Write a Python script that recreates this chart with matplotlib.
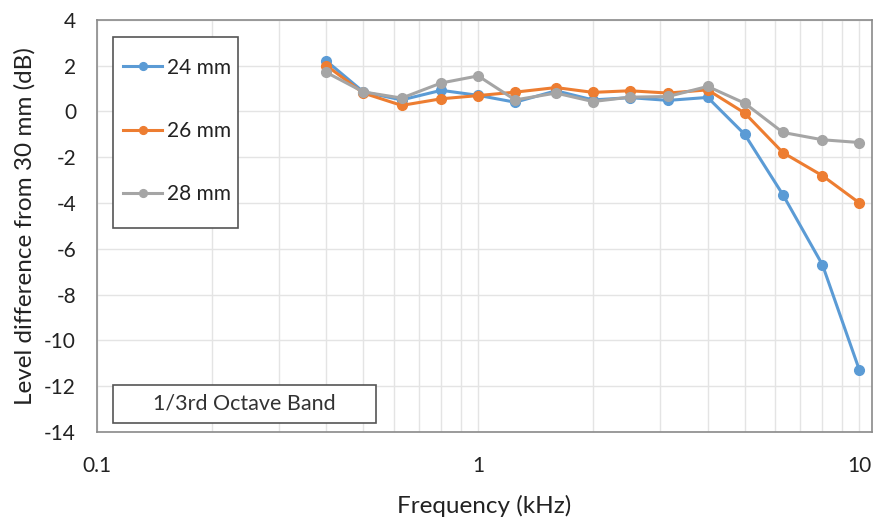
import matplotlib.pyplot as plt
from matplotlib.patches import Rectangle
from matplotlib.ticker import FixedLocator, FixedFormatter, LogLocator, NullFormatter

plt.rcParams['font.family'] = ['Lato', 'DejaVu Sans']
plt.rcParams['axes.unicode_minus'] = False

# frecuencias de las bandas de 1/3 de octava (kHz)
freqs = [0.4, 0.5, 0.63, 0.8, 1, 1.25, 1.6, 2, 2.5, 3.15, 4, 5, 6.3, 8, 10]

# diferencia de nivel respecto a 30 mm (dB)
mm24 = [2.2, 0.85, 0.5, 0.92, 0.7, 0.4, 0.9, 0.5, 0.6, 0.48, 0.61, -1.0, -3.64, -6.7, -11.3]
mm26 = [2.0, 0.8, 0.26, 0.55, 0.69, 0.84, 1.04, 0.83, 0.9, 0.8, 0.94, -0.07, -1.8, -2.81, -4.0]
mm28 = [1.7, 0.85, 0.58, 1.24, 1.55, 0.5, 0.8, 0.43, 0.62, 0.65, 1.09, 0.36, -0.92, -1.24, -1.36]

labels = ['24 mm', '26 mm', '28 mm']
colors = ['#5B9BD5', '#ED7D31', '#A5A5A5']
txt = '#222222'

fig = plt.figure(figsize=(8.73, 5.21), dpi=100)
ax = fig.add_axes([0.111, 0.171, 0.888, 0.791])

for ys, lab, c in zip([mm24, mm26, mm28], labels, colors):
    ax.plot(freqs, ys, color=c, lw=2.2, marker='o', ms=7, label=lab)

ax.set_xscale('log')
ax.set_xlim(0.1, 10.8)
ax.set_ylim(-14, 4)
ax.xaxis.set_major_locator(FixedLocator([0.1, 1, 10]))
ax.xaxis.set_major_formatter(FixedFormatter(['0.1', '1', '10']))
ax.xaxis.set_minor_locator(LogLocator(base=10, subs=range(2, 10)))
ax.xaxis.set_minor_formatter(NullFormatter())
ax.set_yticks(range(-14, 5, 2))

ax.grid(True, which='both', axis='x', color='#e4e4e4', lw=1)
ax.grid(True, which='major', axis='y', color='#e4e4e4', lw=1)
ax.set_axisbelow(True)
ax.tick_params(which='both', length=0, labelsize=15, colors=txt)
ax.tick_params(axis='x', pad=17)
ax.tick_params(axis='y', pad=15)
for s in ax.spines.values():
    s.set_color('#8a8a8a')
    s.set_linewidth(1.2)

ax.set_xlabel('Frequency (kHz)', fontsize=17.5, color=txt, labelpad=14)
ax.set_ylabel('Level difference from 30 mm (dB)', fontsize=17.5, color=txt, labelpad=6)

# leyenda sin marco + marco dibujado aparte
leg = ax.legend(loc='upper left', bbox_to_anchor=(0.0335, 0.908), fontsize=15, labelspacing=2.07,
                handlelength=1.9, handletextpad=0.2, borderpad=0, borderaxespad=0,
                frameon=False, markerscale=0.8)
for t in leg.get_texts():
    t.set_color(txt)
ax.add_patch(Rectangle((0.0206, 0.495), 0.1614, 0.464, transform=ax.transAxes,
                       fc='white', ec='#555555', lw=1.2, zorder=4))
leg.set_zorder(5)

# cuadro de texto inferior
ax.add_patch(Rectangle((0.0206, 0.022), 0.3394, 0.092, transform=ax.transAxes,
                       fc='white', ec='#555555', lw=1.2, zorder=4))
ax.text(0.19, 0.068, '1/3rd Octave Band', fontsize=15.5, color='#333333', ha='center', va='center',
        transform=ax.transAxes, zorder=5)

fig.savefig('out.png', dpi=100)
